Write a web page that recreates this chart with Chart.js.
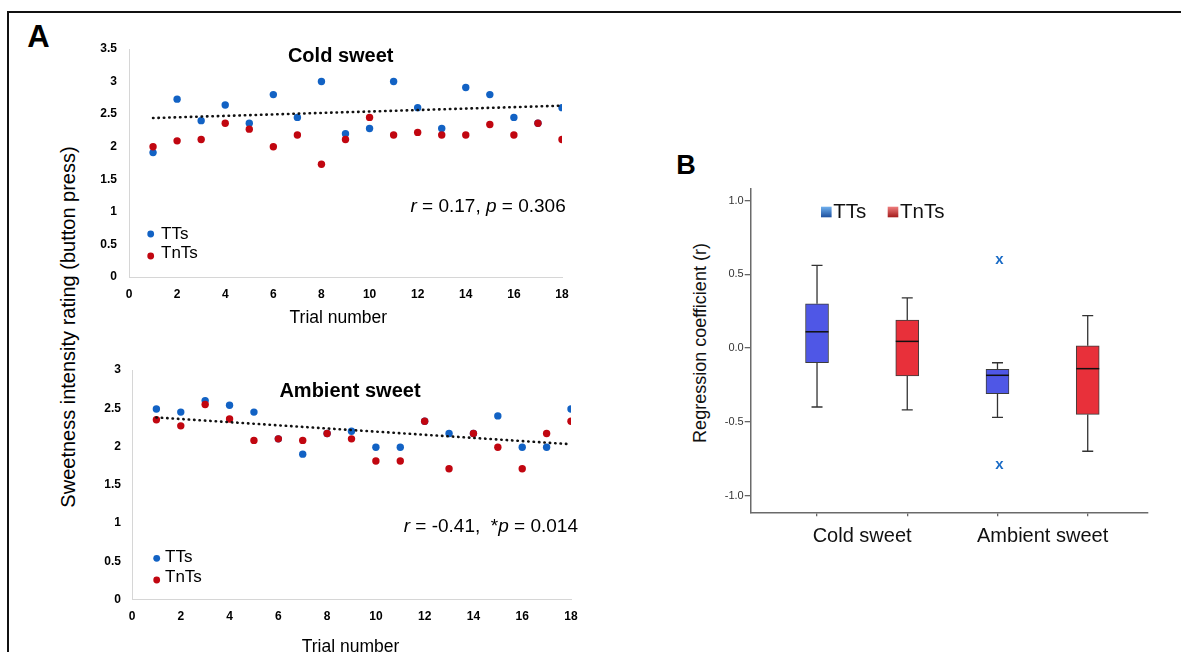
<!DOCTYPE html>
<html lang="en">
<head>
<meta charset="UTF-8">
<title>Sweetness intensity ratings</title>
<script src="https://cdn.jsdelivr.net/npm/chart.js"></script>
<style>
  body { margin: 0; width: 1181px; height: 652px; overflow: hidden; background: #fff; position: relative;
         font-family: 'Liberation Sans', Arial, sans-serif; color: #000; }
  .frame { position: absolute; left: 7px; top: 11px; width: 1300px; height: 800px; border: 2px solid #111; }
  .box { position: absolute; }
  .letter { position: absolute; font-weight: bold; line-height: 1; transform: translate(-50%, -50%); }
  .vlabel { position: absolute; white-space: nowrap; line-height: 1; transform: translate(-50%, -50%) rotate(-90deg); }
</style>
</head>
<body>
<div class="frame"></div>
<div class="letter" style="left:38.5px; top:36px; font-size:31px;">A</div>
<div class="letter" style="left:686px; top:164.5px; font-size:27px;">B</div>
<div class="vlabel" style="left:68px; top:326.5px; font-size:20px;">Sweetness intensity rating (button press)</div>
<div class="vlabel" style="left:700px; top:342.5px; font-size:18px; color:#111;">Regression coefficient (r)</div>

<div class="box" style="left:60px; top:29px; width:520px; height:300px;"><canvas id="coldChart"></canvas></div>
<div class="box" style="left:72px; top:350px; width:520px; height:310px;"><canvas id="ambientChart"></canvas></div>
<div class="box" style="left:660px; top:170px; width:521px; height:400px;"><canvas id="boxChart"></canvas></div>

<script>
    const FONT = "'Liberation Sans', Arial, sans-serif";
    Chart.defaults.font.family = FONT;
    Chart.defaults.color = '#000';
    Chart.defaults.animation = false;

    // ---- data, panel A ----
    const trials = [1, 2, 3, 4, 5, 6, 7, 8, 9, 10, 11, 12, 13, 14, 15, 16, 17, 18];
    const coldTTs = [1.91, 2.73, 2.40, 2.64, 2.36, 2.80, 2.45, 3.00, 2.20, 2.28, 3.00, 2.60, 2.28, 2.91, 2.80, 2.45, 2.36, 2.60];
    const coldTnTs = [2.00, 2.09, 2.11, 2.36, 2.27, 2.00, 2.18, 1.73, 2.11, 2.45, 2.18, 2.22, 2.18, 2.18, 2.34, 2.18, 2.36, 2.11];
    const ambientTTs = [2.49, 2.45, 2.60, 2.54, 2.45, 2.10, 1.90, 2.17, 2.20, 1.99, 1.99, 2.33, 2.17, 2.17, 2.40, 1.99, 1.99, 2.49];
    const ambientTnTs = [2.35, 2.27, 2.55, 2.36, 2.08, 2.10, 2.08, 2.17, 2.10, 1.81, 1.81, 2.33, 1.71, 2.17, 1.99, 1.71, 2.17, 2.33];
    const trendX = [1, 18];
    const coldTrend = [2.44, 2.63];
    const ambientTrend = [2.38, 2.03];
    const xTicksA = [0, 2, 4, 6, 8, 10, 12, 14, 16, 18];
    const yTicksCold = [0, 0.5, 1, 1.5, 2, 2.5, 3, 3.5];
    const yTicksAmbient = [0, 0.5, 1, 1.5, 2, 2.5, 3];

    // ---- data, panel B ----
    const boxCategories = ['Cold sweet', 'Ambient sweet'];
    const boxGroups = ['TTs', 'TnTs'];
    const ttsHigh = [0.56, -0.10];
    const ttsQ3 = [0.30, -0.145];
    const ttsMedian = [0.11, -0.185];
    const ttsQ1 = [-0.10, -0.31];
    const ttsLow = [-0.40, -0.47];
    const ttsOutliers = [[], [0.59, -0.80]];
    const tntsHigh = [0.34, 0.22];
    const tntsQ3 = [0.19, 0.015];
    const tntsMedian = [0.045, -0.14];
    const tntsQ1 = [-0.19, -0.45];
    const tntsLow = [-0.42, -0.70];
    const tntsOutliers = [[], []];
    const yTicksB = [-1, -0.5, 0, 0.5, 1];

    const BLUE = '#1262c4';
    const RED = '#c10610';

    function richRight(ctx, parts, right, baseline, size) {
        let w = 0;
        parts.forEach(p => {
            ctx.font = (p[1] ? 'italic ' : '') + size + 'px ' + FONT;
            w += ctx.measureText(p[0]).width;
        });
        let x = right - w;
        ctx.textAlign = 'left';
        parts.forEach(p => {
            ctx.font = (p[1] ? 'italic ' : '') + size + 'px ' + FONT;
            ctx.fillText(p[0], x, baseline);
            x += ctx.measureText(p[0]).width;
        });
    }

    // titles, legend and r/p text drawn inside the scatter panels
    const scatterText = {
        id: 'scatterText',
        afterDatasetsDraw(chart, args, o) {
            const ctx = chart.ctx, a = chart.chartArea;
            ctx.save();
            ctx.fillStyle = '#000';
            ctx.textBaseline = 'alphabetic';
            ctx.textAlign = 'center';
            ctx.font = 'bold 20px ' + FONT;
            ctx.fillText(o.title, a.left + o.titlePos[0], a.top + o.titlePos[1]);
            ctx.font = '17.5px ' + FONT;
            ctx.fillText('Trial number', a.left + o.xTitlePos[0], a.bottom + o.xTitlePos[1]);

            o.legend.forEach(item => {
                const ds = chart.data.datasets.find(d => d.label === item.label);
                ctx.beginPath();
                ctx.fillStyle = ds.backgroundColor;
                ctx.arc(a.left + o.legendDotX, a.bottom + item.dotY, 3.4, 0, Math.PI * 2);
                ctx.fill();
                ctx.fillStyle = '#000';
                ctx.textAlign = 'left';
                ctx.font = '17px ' + FONT;
                ctx.fillText(item.label, a.left + o.legendTextX, a.bottom + item.textY);
            });

            richRight(ctx, o.stat, a.right + o.statPos[0], a.bottom + o.statPos[1], 19);
            ctx.restore();
        }
    };

    function scatterChart(id, tts, tnts, trend, yTicks, cfg) {
        return new Chart(document.getElementById(id), {
            type: 'scatter',
            data: {
                datasets: [
                    {
                        type: 'line',
                        label: 'trend',
                        data: trendX.map((x, i) => ({ x: x, y: trend[i] })),
                        borderColor: '#111',
                        borderWidth: 2.6,
                        borderDash: [0.4, 5],
                        borderCapStyle: 'round',
                        pointRadius: 0,
                        fill: false
                    },
                    {
                        label: 'TnTs',
                        data: trials.map((x, i) => ({ x: x, y: tnts[i] })),
                        backgroundColor: RED,
                        borderColor: RED,
                        borderWidth: 0,
                        pointRadius: 3.7
                    },
                    {
                        label: 'TTs',
                        data: trials.map((x, i) => ({ x: x, y: tts[i] })),
                        backgroundColor: BLUE,
                        borderColor: BLUE,
                        borderWidth: 0,
                        pointRadius: 3.7
                    }
                ]
            },
            options: {
                responsive: true,
                maintainAspectRatio: false,
                layout: { padding: { left: 0, top: 20, right: cfg.padRight, bottom: 0 } },
                plugins: {
                    legend: { display: false },
                    tooltip: { enabled: false },
                    scatterText: cfg.text
                },
                scales: {
                    x: {
                        type: 'linear',
                        min: 0,
                        max: 18,
                        afterBuildTicks: s => { s.ticks = xTicksA.map(v => ({ value: v })); },
                        afterFit: s => { s.height = cfg.xHeight; },
                        ticks: { font: { size: 12, weight: 'bold' }, color: '#000', padding: 10, maxRotation: 0, autoSkip: false },
                        grid: { display: false, drawTicks: false },
                        border: { color: '#d6d6d6', width: 1 }
                    },
                    y: {
                        min: 0,
                        max: yTicks[yTicks.length - 1],
                        afterBuildTicks: s => { s.ticks = yTicks.map(v => ({ value: v })); },
                        afterFit: s => { s.width = cfg.yWidth; },
                        ticks: { font: { size: 12, weight: 'bold' }, color: '#000', padding: cfg.yPad, callback: v => String(v) },
                        grid: { display: false, drawTicks: false },
                        border: { color: '#d6d6d6', width: 1 }
                    }
                }
            },
            plugins: [scatterText]
        });
    }

    scatterChart('coldChart', coldTTs, coldTnTs, coldTrend, yTicksCold, {
        padRight: 18, xHeight: 52, yWidth: 69, yPad: 12,
        text: {
            title: 'Cold sweet', titlePos: [211.7, 12.7],
            xTitlePos: [209.3, 45.7],
            legendDotX: 21.7, legendTextX: 32,
            legend: [{ label: 'TTs', dotY: -43, textY: -38 }, { label: 'TnTs', dotY: -21, textY: -18.7 }],
            stat: [['r', true], [' = 0.17, ', false], ['p', true], [' = 0.306', false]],
            statPos: [3.7, -64.7]
        }
    });

    scatterChart('ambientChart', ambientTTs, ambientTnTs, ambientTrend, yTicksAmbient, {
        padRight: 21, xHeight: 60.5, yWidth: 60, yPad: 11,
        text: {
            title: 'Ambient sweet', titlePos: [218, 26.7],
            xTitlePos: [218.5, 52.2],
            legendDotX: 24.7, legendTextX: 33,
            legend: [{ label: 'TTs', dotY: -41.2, textY: -37.2 }, { label: 'TnTs', dotY: -19.5, textY: -17.8 }],
            stat: [['r', true], [' = -0.41,  *', false], ['p', true], [' = 0.014', false]],
            statPos: [7, -67.8]
        }
    });

    // ---- panel B: box plot ----
    const boxStats = {
        TTs: { hi: ttsHigh, q3: ttsQ3, med: ttsMedian, q1: ttsQ1, lo: ttsLow, out: ttsOutliers },
        TnTs: { hi: tntsHigh, q3: tntsQ3, med: tntsMedian, q1: tntsQ1, lo: tntsLow, out: tntsOutliers }
    };
    const boxFill = ['#4f57e6', '#e8303a'];
    const boxPos = (ci, gi) => ci * boxGroups.length + gi + 1;
    const boxTicks = [];
    const catLabelAt = {};
    boxCategories.forEach((c, ci) => {
        boxGroups.forEach((g, gi) => boxTicks.push(boxPos(ci, gi)));
        const mid = (boxPos(ci, 0) + boxPos(ci, boxGroups.length - 1)) / 2;
        boxTicks.push(mid);
        catLabelAt[mid] = c;
    });
    boxTicks.sort((a, b) => a - b);

    const boxExtras = {
        id: 'boxExtras',
        afterDatasetsDraw(chart) {
            const ctx = chart.ctx, xs = chart.scales.x, ys = chart.scales.y, a = chart.chartArea;
            const py = v => ys.getPixelForValue(v);
            ctx.save();
            boxGroups.forEach((g, gi) => {
                const s = boxStats[g];
                boxCategories.forEach((c, ci) => {
                    const x = xs.getPixelForValue(boxPos(ci, gi));
                    ctx.strokeStyle = '#333';
                    ctx.lineWidth = 1.3;
                    ctx.beginPath();
                    ctx.moveTo(x, py(s.q3[ci])); ctx.lineTo(x, py(s.hi[ci]));
                    ctx.moveTo(x - 5.5, py(s.hi[ci])); ctx.lineTo(x + 5.5, py(s.hi[ci]));
                    ctx.moveTo(x, py(s.q1[ci])); ctx.lineTo(x, py(s.lo[ci]));
                    ctx.moveTo(x - 5.5, py(s.lo[ci])); ctx.lineTo(x + 5.5, py(s.lo[ci]));
                    ctx.stroke();
                    ctx.strokeStyle = '#111';
                    ctx.lineWidth = 1.5;
                    ctx.beginPath();
                    ctx.moveTo(x - 11.5, py(s.med[ci])); ctx.lineTo(x + 11.5, py(s.med[ci]));
                    ctx.stroke();
                    ctx.fillStyle = '#1b6cc6';
                    ctx.font = 'bold 15px ' + FONT;
                    ctx.textAlign = 'center';
                    ctx.textBaseline = 'middle';
                    s.out[ci].forEach(v => ctx.fillText('x', x + 2, py(v) - 1));
                });
            });

            // legend
            const lx = [a.left + 70.3, a.left + 137];
            boxGroups.forEach((g, gi) => {
                const x0 = lx[gi], y0 = a.top + 18.4;
                const grad = ctx.createLinearGradient(0, y0, 0, y0 + 10.6);
                grad.addColorStop(0, gi === 0 ? '#6fb0ee' : '#ef7d7d');
                grad.addColorStop(1, gi === 0 ? '#1c4f9e' : '#a31b1b');
                ctx.fillStyle = grad;
                ctx.fillRect(x0, y0, 10.6, 10.6);
                ctx.fillStyle = '#111';
                ctx.font = '20.5px ' + FONT;
                ctx.textAlign = 'left';
                ctx.textBaseline = 'alphabetic';
                ctx.fillText(g, x0 + 12.3, y0 + 10.8);
            });
            ctx.restore();
        }
    };

    new Chart(document.getElementById('boxChart'), {
        type: 'bar',
        data: {
            datasets: boxGroups.map((g, gi) => ({
                label: g,
                data: boxCategories.map((c, ci) => ({ x: boxPos(ci, gi), y: [boxStats[g].q1[ci], boxStats[g].q3[ci]] })),
                backgroundColor: boxFill[gi],
                borderColor: '#3c3c3c',
                borderWidth: 1,
                borderSkipped: false,
                barThickness: 23,
                grouped: false
            }))
        },
        options: {
            responsive: true,
            maintainAspectRatio: false,
            layout: { padding: { left: 0, top: 18.3, right: 33, bottom: 0 } },
            plugins: { legend: { display: false }, tooltip: { enabled: false } },
            scales: {
                x: {
                    type: 'linear',
                    min: 0.265,
                    max: 4.668,
                    offset: false,
                    afterBuildTicks: s => { s.ticks = boxTicks.map(v => ({ value: v })); },
                    afterFit: s => { s.height = 57.7; },
                    ticks: {
                        font: { size: 20 }, color: '#111', padding: 8, maxRotation: 0, autoSkip: false,
                        callback: v => catLabelAt[v] || ''
                    },
                    grid: {
                        display: true, offset: false, drawOnChartArea: false, drawTicks: true, tickLength: 4, lineWidth: 1.3,
                        tickColor: ctx => (ctx.tick && catLabelAt[ctx.tick.value]) ? 'rgba(0,0,0,0)' : '#666'
                    },
                    border: { color: '#6a6a6a', width: 1.5 }
                },
                y: {
                    min: -1.114,
                    max: 1.083,
                    afterBuildTicks: s => { s.ticks = yTicksB.map(v => ({ value: v })); },
                    afterFit: s => { s.width = 90.7; },
                    ticks: { font: { size: 11 }, color: '#333', padding: 1, callback: v => v.toFixed(1) },
                    grid: { display: true, offset: false, drawOnChartArea: false, drawTicks: true, tickLength: 6, tickColor: '#666', lineWidth: 1.3 },
                    border: { color: '#6a6a6a', width: 1.5 }
                }
            }
        },
        plugins: [boxExtras]
    });
</script>
</body>
</html>
